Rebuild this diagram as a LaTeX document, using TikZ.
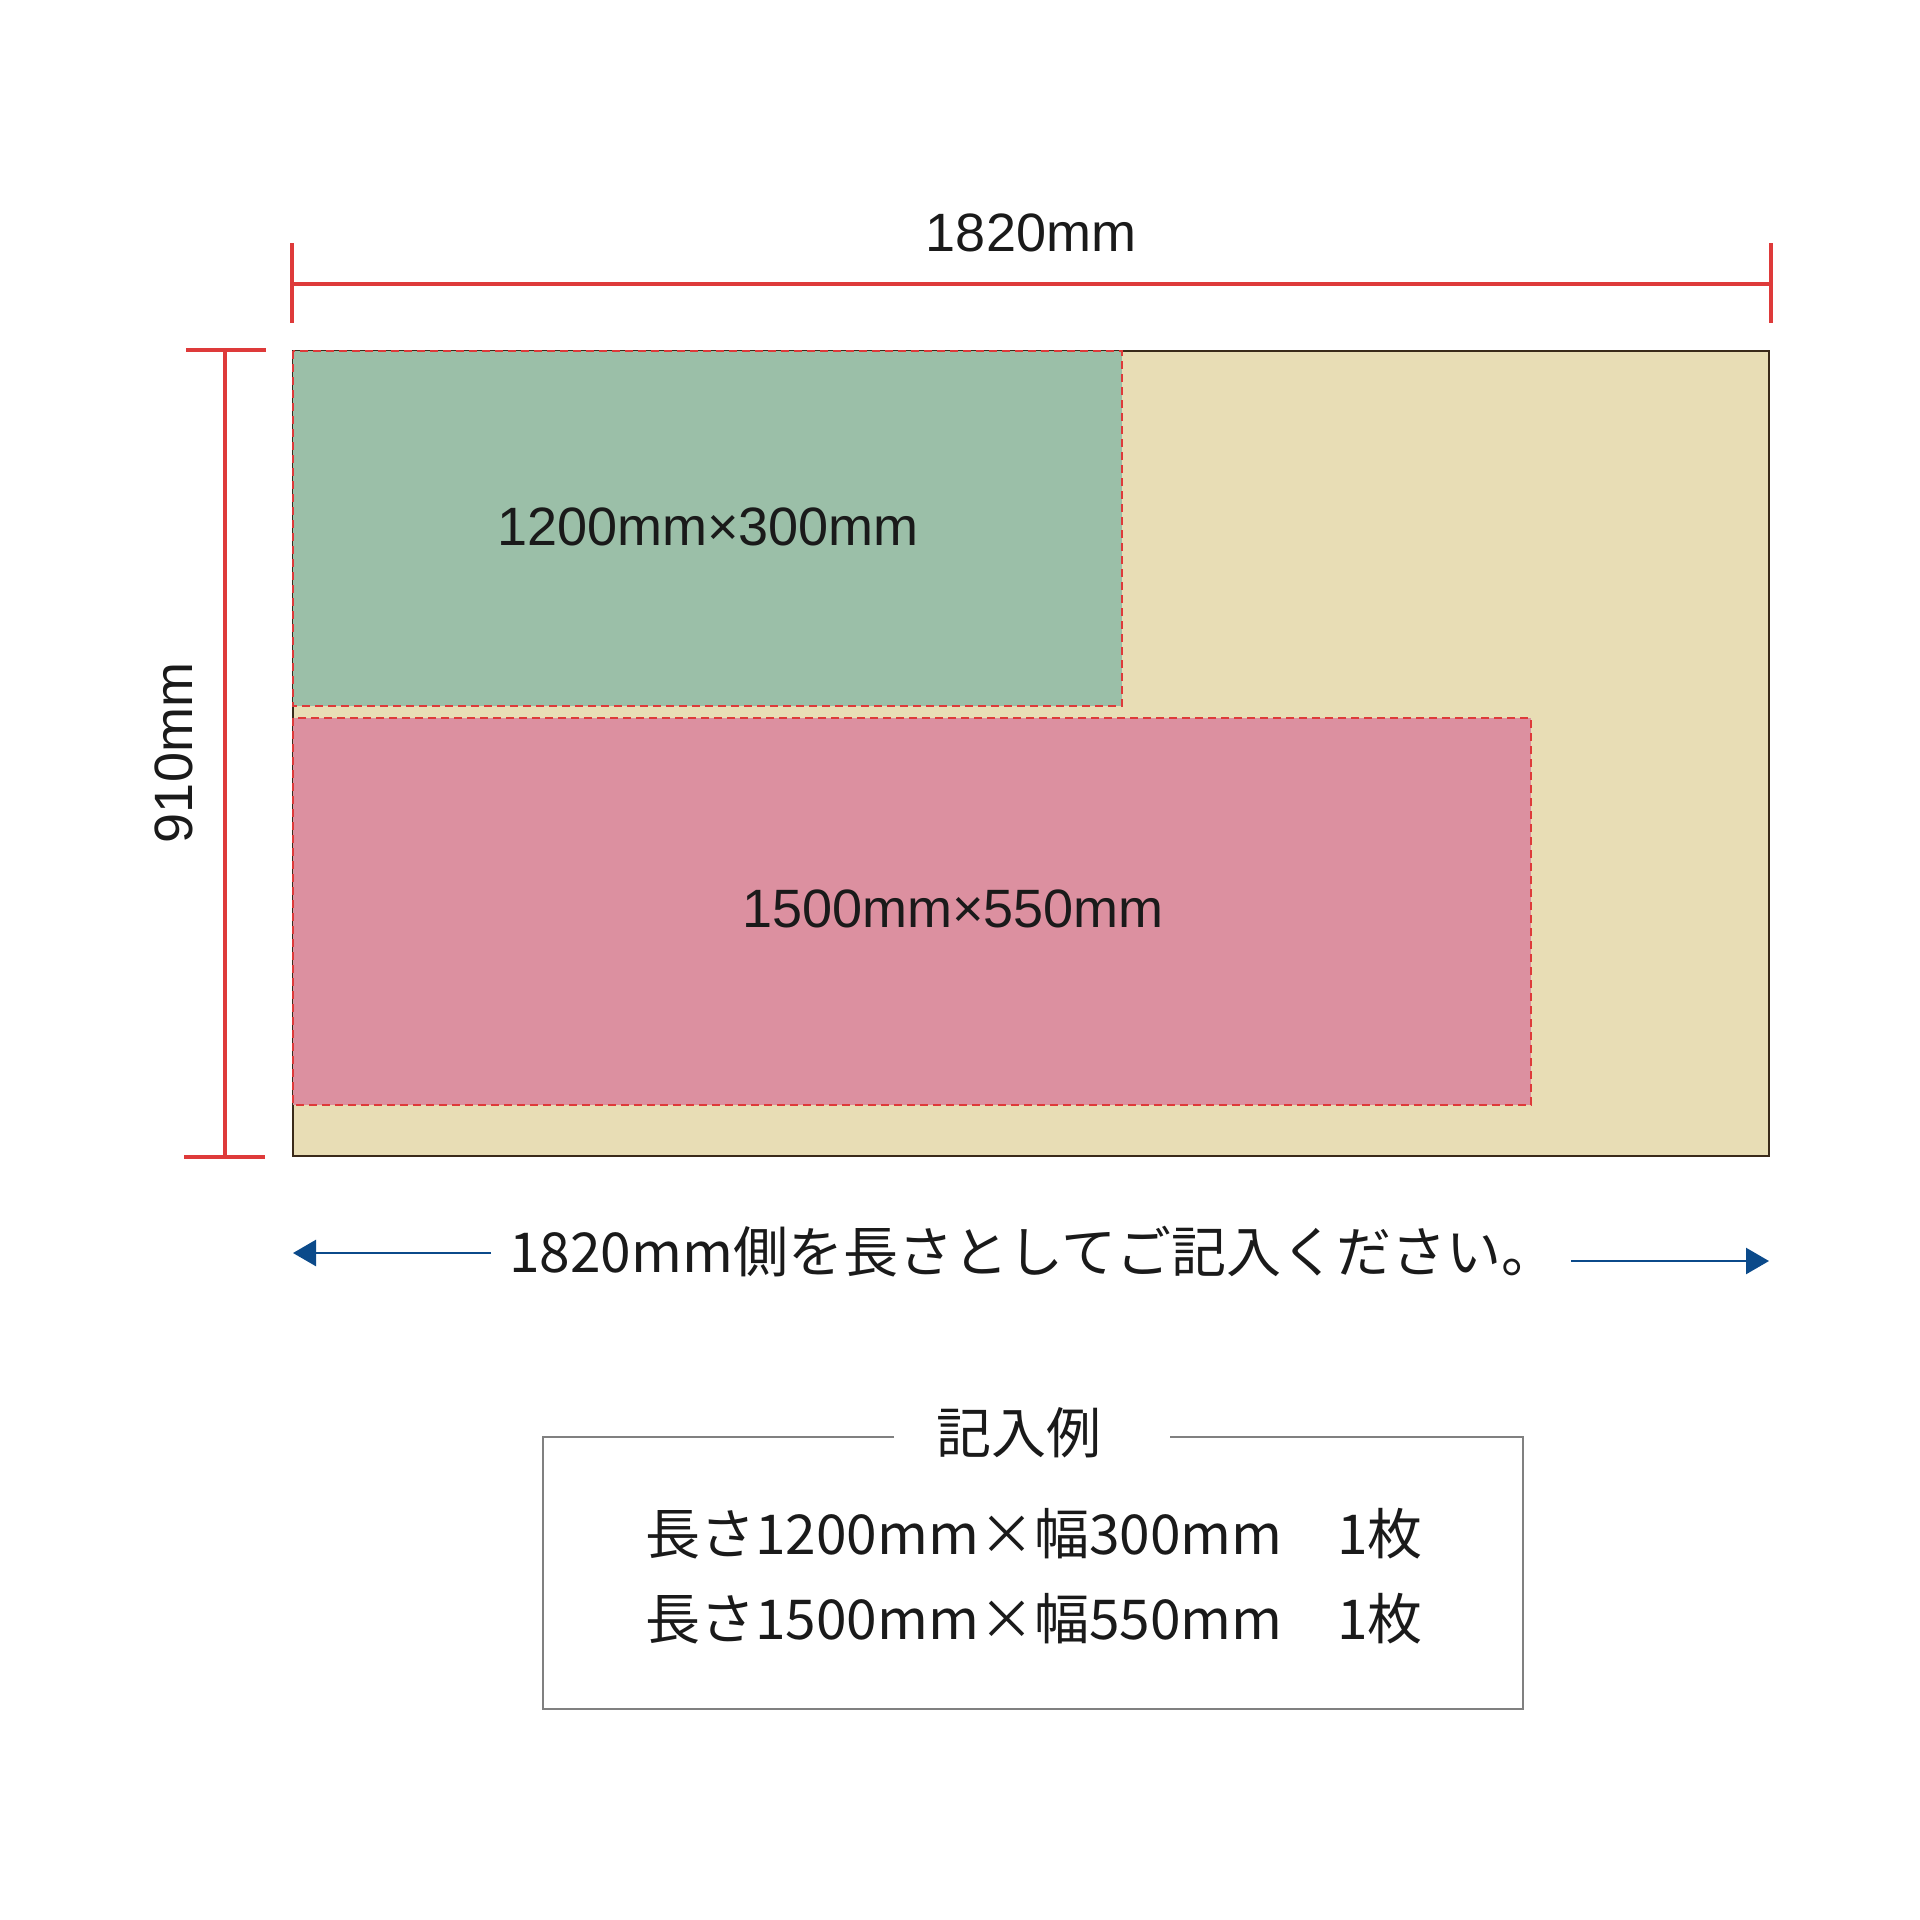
\documentclass[tikz,border=0pt]{standalone}
\usepackage{fontspec}
\setmainfont{Liberation Sans}
\newfontfamily\jpfont{Noto Sans CJK JP}
\usetikzlibrary{arrows.meta}

\begin{document}
\begin{tikzpicture}[x=1pt,y=-1pt]
        %colores
        \definecolor{tabla}{HTML}{E8DDB5}
        \definecolor{verde}{HTML}{9BBFA8}
        \definecolor{rosa}{HTML}{DC90A0}
        \definecolor{rojo}{HTML}{DE3A3A}
        \definecolor{borde}{HTML}{3A2A1A}
        \definecolor{azul}{HTML}{0B4A8A}
        \definecolor{gris}{HTML}{808080}
        \definecolor{texto}{HTML}{1A1A1A}
        \tikzset{
            cota/.style={rojo,line width=4pt},
            corte/.style={draw=rojo,line width=2pt,dash pattern=on 8pt off 5pt},
            flecha/.style={azul,line width=2.5pt,-{Triangle[length=23pt,width=26pt]}},
            medida/.style={text=texto,font=\fontsize{54}{64}\selectfont},
            nota/.style={text=texto,font=\jpfont\fontsize{55}{66}\selectfont}
        }
        \useasboundingbox (0,0) rectangle (1920,1920);

        % Tablero y piezas
        \draw[fill=tabla,draw=borde,line width=2pt] (293,351) rectangle (1769,1156);
        \path[fill=verde,corte] (293,351) rectangle (1122,706);
        \path[fill=rosa,corte] (293,718) rectangle (1531,1105);
        \node[medida] (pieza1) at (708,527) {1200mm×300mm};
        \node[medida] (pieza2) at (953,909) {1500mm×550mm};

        % cota horizontal
        \coordinate (h1) at (292,284);
        \coordinate (h2) at (1771,284);
        \draw[cota] (h1) -- (h2);
        \draw[cota] (292,243) -- (292,323) (1771,243) -- (1771,323);
        \node[medida] (ancho) at (1031,233) {1820mm};

        % cota vertical
        \coordinate (v1) at (225,350);
        \coordinate (v2) at (225,1157);
        \draw[cota] (v1) -- (v2);
        \draw[cota] (186,350) -- (266,350) (184,1157) -- (265,1157);
        \node[medida,rotate=90] (alto) at (174,753) {910mm};

        % aviso con flechas
        \node[nota] (aviso) at (1033,1252) {1820mm側を長さとしてご記入ください。};
        \coordinate (izq) at (293,1253);
        \coordinate (der) at (1769,1261);
        \draw[flecha] (491,1253) -- (izq);
        \draw[flecha] (1571,1261) -- (der);

        % ejemplo
        \draw[gris,line width=2pt] (894,1437) -- (543,1437) -- (543,1709) -- (1523,1709) -- (1523,1437) -- (1170,1437);
        \node[nota] (titulo) at (1019,1433) {記入例};
        \node[nota] (linea1) at (1034,1534) {長さ1200mm×幅300mm　1枚};
        \node[nota] (linea2) at (1034,1619) {長さ1500mm×幅550mm　1枚};
    \end{tikzpicture}
\end{document}
